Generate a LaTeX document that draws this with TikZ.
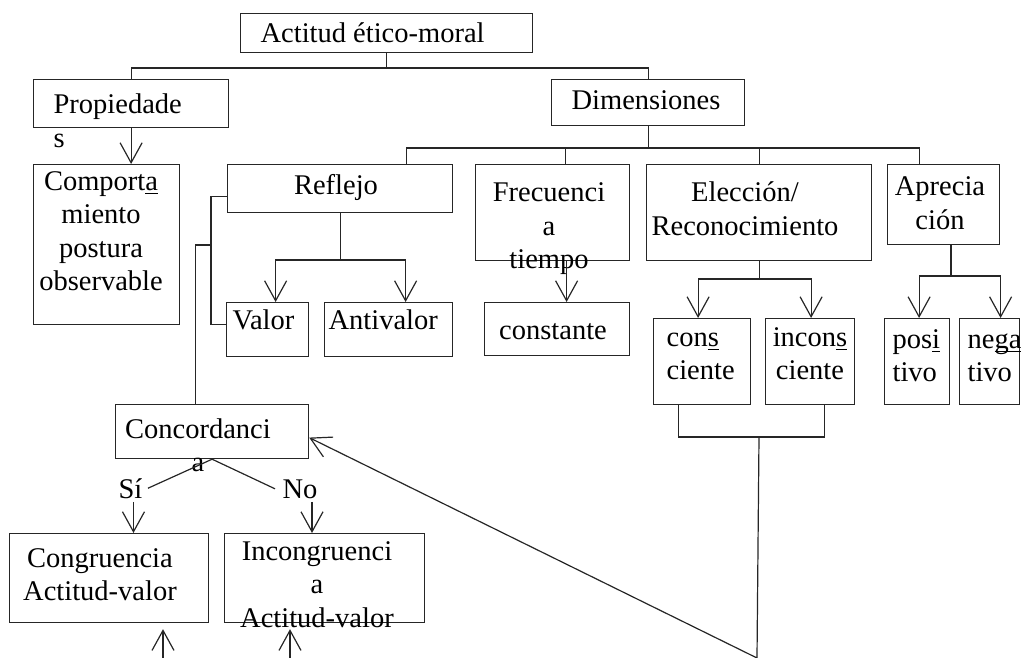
\documentclass[tikz,border=0pt]{standalone}
\usepackage{fontspec}
\setmainfont{Liberation Serif}
\usetikzlibrary{arrows.meta}
\newcommand{\uletra}[1]{\setbox0=\hbox{#1}\rlap{\rule[-4pt]{\wd0}{1.3pt}}#1}
\tikzset{
  box/.style={draw, anchor=north west, inner sep=0pt},
  word/.style={anchor=base west, inner sep=0pt},
  ltxt/.style={anchor=base west, inner sep=0pt, text width=#1, align=left},
  ltxt/.default=200pt,
  ctxt/.style={anchor=base, inner sep=0pt, text width=#1, align=center},
  ctxt/.default=260pt
}

\begin{document}
\begin{tikzpicture}[x=1pt, y=-1pt, line width=1.2pt, draw=black!85,
    >={Straight Barb[length=20pt, width=22pt]},
    font=\fontsize{28.5}{33.5}\selectfont]
  \useasboundingbox (0,0) rectangle (1021,658);

  % boxes
  \node[box, minimum width=292pt, minimum height=39pt] at (240,13) (actitud) {};
  \node[box, minimum width=195pt, minimum height=48pt] at (33,79) (prop) {};
  \node[box, minimum width=193pt, minimum height=46pt] at (551,79) (dim) {};
  \node[box, minimum width=146pt, minimum height=160pt] at (33,164) (comp) {};
  \node[box, minimum width=225pt, minimum height=48pt] at (227,164) (refl) {};
  \node[box, minimum width=154pt, minimum height=96pt] at (475,164) (frec) {};
  \node[box, minimum width=225pt, minimum height=96pt] at (646,164) (elec) {};
  \node[box, minimum width=112pt, minimum height=80pt] at (887,164) (apre) {};
  \node[box, minimum width=82pt, minimum height=54pt] at (226,302) (valor) {};
  \node[box, minimum width=128pt, minimum height=54pt] at (324,302) (anti) {};
  \node[box, minimum width=145pt, minimum height=53pt] at (484,302) (cte) {};
  \node[box, minimum width=97pt, minimum height=86pt] at (653,318) (consc) {};
  \node[box, minimum width=89pt, minimum height=86pt] at (765,318) (incon) {};
  \node[box, minimum width=65pt, minimum height=86pt] at (884,318) (posi) {};
  \node[box, minimum width=60pt, minimum height=86pt] at (959,318) (nega) {};
  \node[box, minimum width=193pt, minimum height=54pt] at (115,404) (conc) {};
  \node[box, minimum width=199pt, minimum height=89pt] at (9,533) (congr) {};
  \node[box, minimum width=200pt, minimum height=89pt] at (224,533) (incongr) {};

  % texts
  \node[word] at (260,43) (actitud_txt) {Actitud ético-moral};
  \node[ltxt] at (53,114) (prop_txt) {Propiedade\\s};
  \node[ctxt] at (646,110) (dim_txt) {Dimensiones};
  \node[ctxt] at (101,190) (comp_txt) {Comport\uletra{a}\\miento\\postura\\observable};
  \node[ctxt] at (336,195) (refl_txt) {Reflejo};
  \node[ctxt] at (549,202) (frec_txt) {Frecuenci\\a\\tiempo};
  \node[ctxt] at (745,202) (elec_txt) {Elección/\\Reconocimiento};
  \node[ctxt] at (940,196) (apre_txt) {Aprecia\\ción};
  \node[word] at (232,329) (valor_txt) {Valor};
  \node[word] at (328,329) (anti_txt) {Antivalor};
  \node[ctxt] at (553,339) (cte_txt) {constante};
  \node[ltxt] at (666,346) (consc_txt) {con\uletra{s}\\ciente};
  \node[ctxt] at (810,346) (incon_txt) {incon\uletra{s}\\ciente};
  \node[ltxt] at (892,348) (posi_txt) {pos\uletra{i}\\tivo};
  \node[ltxt] at (967,348) (nega_txt) {ne\uletra{ga}\\tivo};
  \node[ctxt] at (198,438) (conc_txt) {Concordanci\\a};
  \node[word] at (118,498) (si_txt) {Sí};
  \node[word] at (282,498) (no_txt) {No};
  \node[ctxt] at (100,567) (congr_txt) {Congruencia\\Actitud-valor};
  \node[ctxt] at (317,560) (incongr_txt) {Incongruenci\\a\\Actitud-valor};

  % buses
  \coordinate (topbus) at (388,68);
  \coordinate (dimbus) at (647,148);
  \coordinate (reflbus) at (340,260);
  \coordinate (elecbus) at (759,279);
  \coordinate (aprebus) at (951,276);
  \coordinate (joinbus) at (759,437);
  \coordinate (corner) at (757,658);
  \coordinate (brk) at (211,245);
  \coordinate (upA) at (163,658);
  \coordinate (upB) at (290,658);

  \path[draw] (actitud.south) -- (actitud.south |- topbus);
  \path[draw] (prop.north) |- (dim.north |- topbus) -- (dim.north);
  \path[draw, ->] (prop.south) -- (prop.south |- comp.north);

  \path[draw] (dim.south) -- (dim.south |- dimbus);
  \path[draw] ([xshift=66pt]refl.north) |- ([xshift=-24pt]apre.north |- dimbus) -- ([xshift=-24pt]apre.north);
  \path[draw] ([xshift=13pt]frec.north) -- ([xshift=13pt]frec.north |- dimbus);
  \path[draw] (elec.north) -- (elec.north |- dimbus);

  \path[draw] (refl.south) -- (refl.south |- reflbus);
  \path[draw, ->] (refl.south |- reflbus) -| ([xshift=8pt]valor.north);
  \path[draw, ->] (refl.south |- reflbus) -| ([xshift=17pt]anti.north);
  \path[draw] ([yshift=-8pt]refl.west) -- ++(-16,0) |- ([yshift=5pt]valor.west);
  \path[draw] (brk) -| ([xshift=-17pt]conc.north);

  \path[draw, ->] ([xshift=14pt]frec.south) -- ([xshift=14pt]frec.south |- cte.north);

  \path[draw] (elec.south) -- (elec.south |- elecbus);
  \path[draw, ->] (elec.south |- elecbus) -| ([xshift=-4pt]consc.north);
  \path[draw, ->] (elec.south |- elecbus) -| ([xshift=1pt]incon.north);
  \path[draw] ([xshift=-24pt]consc.south) |- ([xshift=14pt]incon.south |- joinbus) -- ([xshift=14pt]incon.south);
  \path[draw, ->] (joinbus) -- (corner) -- ([yshift=-6pt]conc.east);

  \path[draw] (apre.south -| aprebus) -- (aprebus);
  \path[draw, ->] (aprebus) -| ([xshift=2pt]posi.north);
  \path[draw, ->] (aprebus) -| ([xshift=11pt]nega.north);

  \path[draw] (conc.south) -- ([xshift=5pt]si_txt.east);
  \path[draw] (conc.south) -- ([xshift=-7pt]no_txt.west);
  \path[draw, ->] ([xshift=3pt,yshift=-3pt]si_txt.south) -- ([xshift=3pt]si_txt.south |- congr.north);
  \path[draw, ->] ([xshift=12pt,yshift=-3pt]no_txt.south) -- ([xshift=12pt]no_txt.south |- incongr.north);

  \path[draw, ->, shorten >=6pt] (upA) -- (upA |- congr.south);
  \path[draw, ->, shorten >=6pt] (upB) -- (upB |- incongr.south);
\end{tikzpicture}
\end{document}
